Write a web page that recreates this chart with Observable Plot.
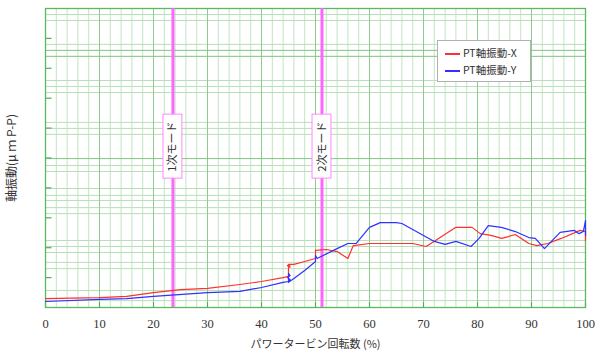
<!DOCTYPE html>
<html><head><meta charset="utf-8">
<script src="https://cdn.jsdelivr.net/npm/d3@7"></script>
<script src="https://cdn.jsdelivr.net/npm/@observablehq/plot@0.6"></script>
<style>
body{margin:0;background:#fff;}
#wrap{position:relative;width:600px;height:354px;}
#legend{position:absolute;left:437px;top:40px;width:92px;height:40px;border:1px solid #b0b0b0;background:#fff;font-family:"Noto Sans CJK JP",sans-serif;font-size:10.5px;color:#333;}
#legend .row{position:absolute;left:7px;height:14px;line-height:14px;white-space:nowrap;}
#legend .sw{position:absolute;left:0;top:7px;width:15px;height:1.5px;}
#legend .tx{position:absolute;left:18px;top:0;}
</style></head>
<body><div id="wrap"><div id="legend">
<div class="row" style="top:5px"><div class="sw" style="background:#ff3030"></div><div class="tx">PT軸振動-X</div></div>
<div class="row" style="top:22px"><div class="sw" style="background:#3030ff"></div><div class="tx">PT軸振動-Y</div></div>
</div></div>
<script>
// Series X (red)
const xX = [0,10,15,20,25,30,36,40,44,45,45,45.3,44.8,45.3,45,46,48,50,50,52,54,56,57,60,65,68,70.5,76,79,80.5,82.5,84.5,87,89.5,91,93,95.5,99,100,100];
const yX = [3.0,3.3,3.7,5.0,6.0,6.4,7.7,8.7,10.0,10.4,13.4,14.4,14.0,13.5,14.4,14.4,15.4,16.4,19.1,19.4,18.7,16.4,20.7,21.4,21.4,21.4,20.4,26.8,26.8,24.7,24.1,23.1,24.4,21.4,20.7,21.4,23.1,25.8,25.4,22.4];
// Series Y (blue)
const xY = [0,10,15,20,30,36,40,44,45,45,45.3,44.8,45.3,45,46,48,50,50,50.3,54,56,57.5,60,62,65,66,72,74,76,78.8,80.3,82,84.4,87,89.5,90.7,92.4,95.3,97.9,98.8,99.6,100,100];
const yY = [2.0,2.7,3.0,3.7,5.0,5.4,6.7,8.4,8.7,11.4,10.7,10.0,9.4,8.4,9.7,12.4,15.4,17.4,16.4,19.7,21.4,21.4,26.8,28.4,28.4,28.1,22.1,21.1,22.1,20.4,23.1,27.4,26.8,25.4,23.4,23.1,19.7,25.1,25.8,24.7,25.4,29.1,24.1];
// mode lines
const modeX = [23.6, 51.2];
const modeLabel = ["1次モード", "2次モード"];
const modeLabelY = 53.8;
// axis ticks
const xTicks = [0,10,20,30,40,50,60,70,80,90,100];
const yTicks = [10,20,30,40,50,60,70,80,90];
const xMinorGrid = [2,4,6,8,12,14,16,18,22,24,26,28,32,34,36,38,42,44,46,48,52,54,56,58,62,64,66,68,72,74,76,78,82,84,86,88,92,94,96,98];
const xMajorGrid = [10,20,30,40,50,60,70,80,90];
const yMinorGrid = [98.0,96.0,88.0,75.9,73.9,71.9,61.9,59.9,57.9,47.5,45.5,39.8,37.5,35.8,33.4,31.4,22.4,20.4,18.4,15.1,13.0,5.7,2.3];
const yMajorGrid = [86.0,84.0,49.8];

const red = xX.map((x,i)=>({x, y:yX[i]}));
const blue = xY.map((x,i)=>({x, y:yY[i]}));
const modes = modeX.map((x,i)=>({x, label:modeLabel[i], y:modeLabelY}));

const chart = Plot.plot({
  width: 600, height: 354,
  marginLeft: 45, marginRight: 15, marginTop: 8, marginBottom: 47,
  x: {domain: [0,100]},
  y: {domain: [0,100]},
  style: {background: "transparent"},
  marks: [
    Plot.ruleX(xMinorGrid, {stroke: "#c4e4c4", strokeWidth: 1}),
    Plot.ruleY(yMinorGrid, {stroke: "#b8deb8", strokeWidth: 1}),
    Plot.ruleX(xMajorGrid, {stroke: "#8ccc8c", strokeWidth: 1}),
    Plot.ruleY(yMajorGrid, {stroke: "#80c480", strokeWidth: 1}),
    Plot.ruleY(yTicks, {x1: 0, x2: 1.2, stroke: "#4caf50", strokeWidth: 1.2}),
    Plot.ruleX(xTicks, {y1: 0, y2: 1.6, stroke: "#4caf50", strokeWidth: 1.2}),
    Plot.frame({stroke: "#5cb85c", strokeWidth: 1.3}),
    Plot.ruleX(modes, {x: "x", stroke: "#ff66ff", strokeWidth: 3}),
    Plot.line(red, {x: "x", y: "y", stroke: "#ff3030", strokeWidth: 1.2}),
    Plot.line(blue, {x: "x", y: "y", stroke: "#3030ff", strokeWidth: 1.2}),
    Plot.rect(modes, {x1: d => d.x - 1.75, x2: d => d.x + 1.75, y1: d => d.y - 10.7, y2: d => d.y + 10.7, fill: "#fff", stroke: "#ff88ff", strokeWidth: 1}),
    Plot.text(modes, {x: "x", y: "y", text: "label", rotate: -90, fill: "#333", fontSize: 11, fontFamily: "Noto Sans CJK JP"}),
    Plot.axisX({ticks: xTicks, tickSize: 0, tickPadding: 12, label: null, fontSize: 12.5, fill: "#333", ariaLabel: "xticks"}),
    Plot.axisX({ticks: [], label: "パワータービン回転数 (%)", labelAnchor: "center", labelArrow: "none", labelOffset: 40, fontSize: 11, fontFamily: "Noto Sans CJK JP", fill: "#333"}),
    Plot.axisY({ticks: [], label: "軸振動(μ ｍ P-P)", labelAnchor: "center", labelArrow: "none", labelOffset: 38, fontSize: 12, fontFamily: "Noto Sans CJK JP", fill: "#333"})
  ]
});
// serif digits for the x tick labels
d3.select(chart).selectAll("text").filter(function(){ return /^\d+$/.test(this.textContent.trim()); })
  .style("font-family", "'Liberation Serif', 'DejaVu Serif', serif");
document.getElementById("wrap").prepend(chart);
</script></body></html>
